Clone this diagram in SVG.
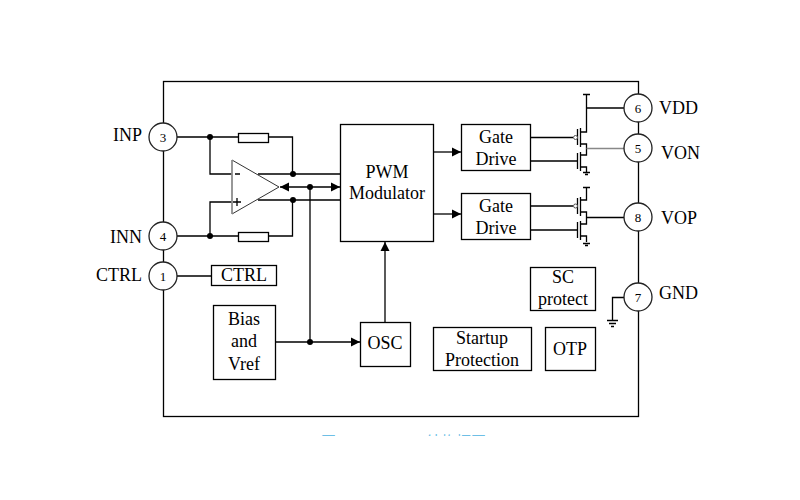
<svg xmlns="http://www.w3.org/2000/svg" width="800" height="500" viewBox="0 0 800 500">
<style>
text{font-family:"Liberation Serif",serif;fill:#000;text-anchor:middle;font-size:18px}
.pin{font-size:13px}
.lab{text-anchor:start}
.r{text-anchor:end}
.b,.p{fill:#fff;stroke:#000;stroke-width:1.300}
.p{stroke:#222}
.w{fill:none;stroke:#000;stroke-width:1.300}
.g{fill:none;stroke:#888;stroke-width:1.500}
.d{fill:#000}
.cap{font-family:"Liberation Sans","Noto Sans CJK SC",sans-serif;font-size:15px;fill:#6dbfe6;text-anchor:start}
</style>
<defs>
<marker id="a" markerWidth="10" markerHeight="10" refX="9" refY="5" orient="auto-start-reverse" markerUnits="userSpaceOnUse"><path d="M0 0.500L9 5L0 9.500Z" fill="#000"/></marker>
<clipPath id="c"><rect x="300" y="420" width="220" height="16"/></clipPath>
</defs>
<rect class="w" x="163.500" y="81.500" width="475" height="335"/>
<g id="connectors">
<path class="w" d="M177 137H238M269 137H292.500V174M210 137V174H232M258 174H340"/>
<path class="w" d="M177 236H238M269 236H292.500V200M210 236V202H232M258 200H340"/>
<path class="w" d="M280 187H340" marker-start="url(#a)" marker-end="url(#a)"/>
<path class="w" d="M310 187V342"/>
<path class="w" d="M276 342H360" marker-end="url(#a)"/>
<path class="w" d="M385 322V242" marker-end="url(#a)"/>
<path class="w" d="M434 152H461" marker-end="url(#a)"/>
<path class="w" d="M434 214H461" marker-end="url(#a)"/>
<path class="w" d="M177 276H211"/>
<path class="w" d="M531 137.500H573M531 161H577.500M531 206H573M531 230H577.500"/>
<path class="w" d="M583 94.500H590M586.500 94.500V132H580M580 144H586.500V155H580M580 167H586.500V172"/>
<path class="w" d="M577.500 129V145M580.500 128V147M577.500 153V169M580.500 152V171"/>
<path class="w" d="M586.500 108H624"/>
<path class="g" d="M586.500 148.500H624"/>
<path class="w" d="M583 187.500H590M586.500 187.500V200H580M580 212H586.500V224H580M580 236H586.500V242"/>
<path class="w" d="M577.500 198V214M580.500 197V216M577.500 222V238M580.500 221V240"/>
<path class="w" d="M586.500 217.500H624"/>
<path class="w" d="M583 172.500H590M585 174.500H588M583 243.500H590M585 245.500H588"/>
<path class="w" d="M624 297.500H612.500V320M607 320.500H618M609 323.500H616M611 326.500H614"/>
<circle cx="210" cy="137" r="3" class="d"/><circle cx="210" cy="236" r="3" class="d"/>
<circle cx="293" cy="174" r="3" class="d"/><circle cx="293" cy="200" r="3" class="d"/>
<circle cx="310" cy="187" r="3" class="d"/><circle cx="310" cy="342" r="3" class="d"/>
<circle cx="575.500" cy="137.500" r="2" fill="#fff" stroke="#555"/>
<circle cx="575.500" cy="206" r="2" fill="#fff" stroke="#555"/>
</g>
<g id="opamp"><path d="M232 160V214L279 187Z" fill="#fff" stroke="#333" stroke-width="1"/><path d="M232 160V214" stroke="#999" stroke-width="1.500"/><path class="w" d="M235 174H240M233 202H241M237 198V206"/></g>
<g id="r1"><rect class="b" x="238.500" y="133.500" width="30" height="9"/></g>
<g id="r2"><rect class="b" x="238.500" y="232.500" width="30" height="9"/></g>
<g id="pwm"><rect class="b" x="340.500" y="124.500" width="93" height="117"/><text x="387" y="178">PWM</text><text x="387" y="199">Modulator</text></g>
<g id="gate1"><rect class="b" x="461.500" y="124.500" width="69" height="46"/><text x="496" y="143">Gate</text><text x="496" y="165">Drive</text></g>
<g id="gate2"><rect class="b" x="461.500" y="193.500" width="69" height="46"/><text x="496" y="212">Gate</text><text x="496" y="234">Drive</text></g>
<g id="ctrlbox"><rect class="b" x="211.500" y="265.500" width="65" height="20"/><text x="244" y="281">CTRL</text></g>
<g id="bias"><rect class="b" x="213.500" y="305.500" width="62" height="74"/><text x="244" y="325">Bias</text><text x="244" y="347">and</text><text x="244" y="370">Vref</text></g>
<g id="osc"><rect class="b" x="360.500" y="322.500" width="50" height="44"/><text x="385" y="349">OSC</text></g>
<g id="sc"><rect class="b" x="530.500" y="267.500" width="65" height="43"/><text x="563" y="283">SC</text><text x="563" y="305">protect</text></g>
<g id="startup"><rect class="b" x="433.500" y="327.500" width="98" height="43"/><text x="482" y="344">Startup</text><text x="482" y="366">Protection</text></g>
<g id="otp"><rect class="b" x="545.500" y="327.500" width="50" height="43"/><text x="570" y="355">OTP</text></g>
<g id="pin3"><circle class="p" cx="163" cy="137" r="14"/><text class="pin" x="163" y="141.500">3</text><text class="r" x="142" y="141">INP</text></g>
<g id="pin4"><circle class="p" cx="163" cy="236" r="14"/><text class="pin" x="163" y="240.500">4</text><text class="r" x="142" y="243">INN</text></g>
<g id="pin1"><circle class="p" cx="163" cy="276" r="14"/><text class="pin" x="163" y="280.500">1</text><text class="r" x="142" y="281">CTRL</text></g>
<g id="pin6"><circle class="p" cx="638" cy="108" r="14"/><text class="pin" x="638" y="112.500">6</text><text class="lab" x="659" y="114">VDD</text></g>
<g id="pin5"><circle class="p" cx="638" cy="148" r="14"/><text class="pin" x="638" y="152.500">5</text><text class="lab" x="661" y="159">VON</text></g>
<g id="pin8"><circle class="p" cx="638" cy="217" r="14"/><text class="pin" x="638" y="221.500">8</text><text class="lab" x="661" y="224">VOP</text></g>
<g id="pin7"><circle class="p" cx="638" cy="297" r="14"/><text class="pin" x="638" y="301.500">7</text><text class="lab" x="659" y="299">GND</text></g>
<g clip-path="url(#c)"><text class="cap" x="321" y="447">图</text><text class="cap" x="426" y="447">结构框图</text></g>
</svg>
